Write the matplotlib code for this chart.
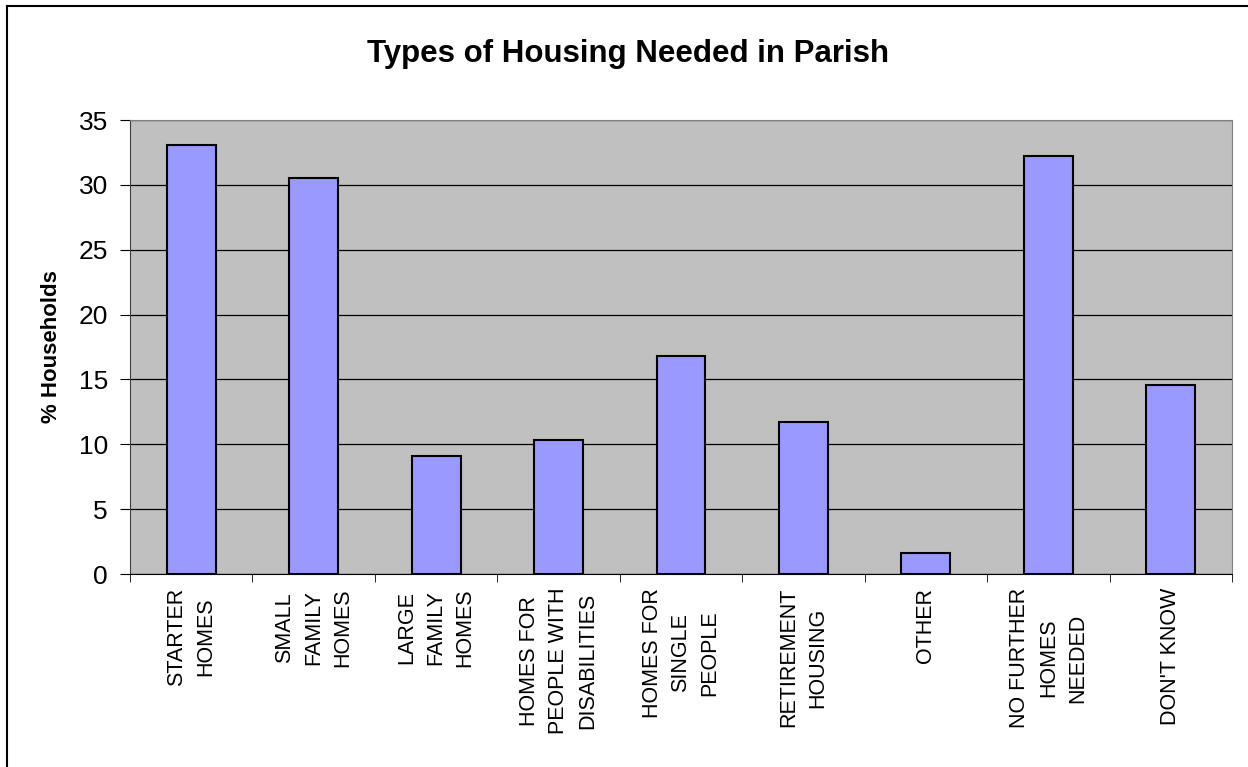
import matplotlib
matplotlib.use("Agg")
import matplotlib.pyplot as plt
from matplotlib.lines import Line2D
import numpy as np

plt.rcParams['font.family'] = ['Liberation Sans', 'DejaVu Sans']

# data
categories = [
    "STARTER\nHOMES",
    "SMALL\nFAMILY\nHOMES",
    "LARGE\nFAMILY\nHOMES",
    "HOMES FOR\nPEOPLE WITH\nDISABILITIES",
    "HOMES FOR\nSINGLE\nPEOPLE",
    "RETIREMENT\nHOUSING",
    "OTHER",
    "NO FURTHER\nHOMES\nNEEDED",
    "DON'T KNOW",
]
values = [33.1, 30.5, 9.1, 10.3, 16.8, 11.7, 1.6, 32.2, 14.6]
y_ticks = [0, 5, 10, 15, 20, 25, 30, 35]

W, H = 1248, 767
fig = plt.figure(figsize=(W / 100, H / 100), dpi=100)
ax = fig.add_axes([130 / W, 1 - 574 / H, (1232 - 130) / W, (574 - 120) / H])

x = np.arange(len(categories)) + 0.5
ax.set_facecolor('#C0C0C0')
ax.bar(x, values, width=0.4, color='#9999FF', edgecolor='black', linewidth=1.5, zorder=3)

ax.set_xlim(0, len(categories))
ax.set_ylim(0, 35)
ax.set_yticks(y_ticks)
ax.yaxis.grid(True, color='black', linewidth=0.9, zorder=1)

# category labels at centres, tick marks at boundaries
ax.set_xticks(x)
ax.set_xticklabels(categories, rotation=90, fontsize=15.5, va='top', ha='center',
                   multialignment='center', linespacing=1.5)
ax.tick_params(axis='x', which='major', length=0, pad=10)
ax.set_xticks(np.arange(len(categories) + 1), minor=True)
ax.tick_params(axis='x', which='minor', length=6, color='black', direction='out')
ax.tick_params(axis='y', length=7, labelsize=19, pad=9, direction='out')

for side in ['top', 'right']:
    ax.spines[side].set_color('#808080')
ax.spines['left'].set_color('#404040')
ax.spines['bottom'].set_color('black')

ax.set_ylabel('% Households', fontsize=16, fontweight='bold', labelpad=12)

fig.text(628 / W, 1 - 54 / H, 'Types of Housing Needed in Parish', fontsize=22.5,
         fontweight='bold', ha='center', va='center')

# chart border (top and left edges visible)
fig.add_artist(Line2D([7 / W, 1], [1 - 6 / H, 1 - 6 / H], color='black', linewidth=1.5,
                      transform=fig.transFigure))
fig.add_artist(Line2D([7 / W, 7 / W], [0, 1 - 6 / H], color='black', linewidth=1.5,
                      transform=fig.transFigure))

fig.savefig('out.png', dpi=100)
